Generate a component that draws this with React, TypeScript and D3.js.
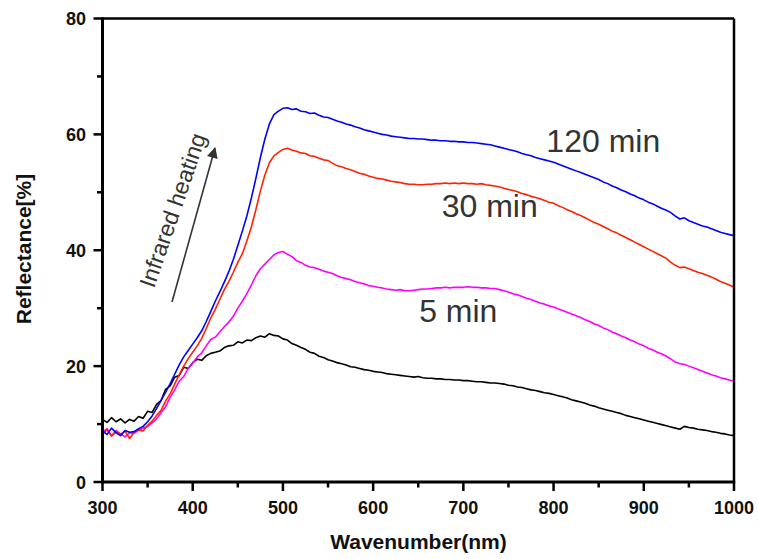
import React from "react";
import * as d3 from "d3";

const W = 758;
const H = 559;

// wavelength grid (nm), 5 nm steps from 300 to 1000
const wavelengths: number[] = d3.range(300, 1001, 5);

const series0min: number[] = [
  10.8, 10.3, 11.1, 10.4, 10.9, 10.2, 10.8, 10.5, 11.3, 11.0, 12.2, 12.0, 13.4, 14.1, 16.0, 16.6, 18.1, 18.4, 19.8, 19.6,
  20.6, 21.2, 21.0, 21.8, 22.2, 22.4, 22.6, 23.2, 23.5, 23.6, 24.2, 24.0, 24.5, 24.4, 24.9, 25.2, 25.0, 25.6, 25.3, 25.2,
  24.7, 24.5, 23.9, 23.6, 23.2, 22.9, 22.4, 22.2, 21.7, 21.5, 21.1, 20.9, 20.6, 20.4, 20.2, 19.9, 19.8, 19.6, 19.4, 19.3,
  19.1, 19.0, 18.9, 18.7, 18.6, 18.5, 18.4, 18.3, 18.2, 18.1, 18.2, 18.0, 17.9, 17.9, 17.8, 17.8, 17.7, 17.7, 17.6, 17.6,
  17.5, 17.5, 17.4, 17.3, 17.3, 17.2, 17.1, 17.1, 17.0, 16.9, 16.7, 16.6, 16.4, 16.3, 16.1, 15.9, 15.8, 15.6, 15.4, 15.3,
  15.1, 14.9, 14.7, 14.5, 14.2, 14.0, 13.8, 13.6, 13.3, 13.1, 12.8, 12.6, 12.4, 12.2, 12.0, 11.8, 11.5, 11.3, 11.1, 10.9,
  10.7, 10.5, 10.3, 10.1, 9.9, 9.7, 9.5, 9.3, 9.1, 9.6, 9.4, 9.3, 9.1, 9.0, 8.9, 8.7, 8.6, 8.4, 8.3, 8.1,
  8.0,
];

const series5min: number[] = [
  8.6, 9.2, 8.0, 8.9, 8.3, 7.8, 8.5, 8.4, 8.9, 9.3, 9.6, 10.2, 10.9, 12.0, 13.0, 14.6, 15.9, 17.4, 18.2, 19.6,
  20.5, 21.6, 22.3, 23.5, 24.6, 25.0, 25.9, 26.8, 27.6, 28.6, 30.0, 31.2, 32.5, 34.0, 35.6, 36.8, 37.6, 38.4, 39.2, 39.6,
  39.8, 39.3, 38.9, 38.2, 37.9, 37.4, 37.1, 37.0, 36.7, 36.4, 36.2, 36.0, 35.6, 35.3, 35.1, 34.9, 34.6, 34.4, 34.2, 33.9,
  33.8, 33.6, 33.5, 33.3, 33.2, 33.1, 33.2, 33.0, 33.0, 33.1, 33.2, 33.3, 33.3, 33.4, 33.5, 33.5, 33.6, 33.5, 33.6, 33.6,
  33.6, 33.7, 33.6, 33.6, 33.5, 33.5, 33.4, 33.4, 33.2, 33.0, 32.8, 32.5, 32.3, 32.0, 31.7, 31.5, 31.2, 30.9, 30.7, 30.4,
  30.2, 29.9, 29.6, 29.3, 29.0, 28.7, 28.4, 28.0, 27.7, 27.3, 27.0, 26.6, 26.3, 25.9, 25.6, 25.2, 24.9, 24.5, 24.2, 23.8,
  23.5, 23.1, 22.8, 22.4, 22.1, 21.7, 21.2, 20.7, 20.4, 20.3, 20.0, 19.7, 19.4, 19.1, 18.8, 18.5, 18.3, 18.0, 17.8, 17.6,
  17.4,
];

const series30min: number[] = [
  8.4, 9.0, 7.9, 8.7, 8.2, 8.8, 7.5, 8.6, 9.0, 8.8, 9.8, 10.5, 11.5, 12.4, 14.0, 15.2, 16.9, 18.5, 20.0, 21.3,
  22.4, 23.5, 24.8, 26.5, 28.3, 29.8, 31.5, 33.2, 34.6, 36.2, 37.9, 39.4, 41.6, 44.0, 47.0, 50.2, 53.0, 55.1, 56.3, 56.9,
  57.4, 57.6, 57.3, 57.1, 56.8, 56.7, 56.3, 56.2, 55.9, 55.6, 55.5, 55.0, 54.6, 54.4, 54.1, 53.9, 53.6, 53.3, 53.1, 52.8,
  52.6, 52.4, 52.3, 52.1, 51.9, 51.8, 51.7, 51.5, 51.4, 51.4, 51.3, 51.3, 51.4, 51.4, 51.5, 51.5, 51.6, 51.5, 51.6, 51.5,
  51.6, 51.5, 51.5, 51.4, 51.5, 51.3, 51.2, 51.1, 50.9, 50.7, 50.5, 50.3, 50.1, 49.8, 49.6, 49.3, 49.1, 48.9, 48.6, 48.3,
  48.1, 47.7, 47.4, 47.0, 46.7, 46.3, 46.0, 45.6, 45.2, 44.8, 44.5, 44.1, 43.7, 43.3, 43.0, 42.6, 42.2, 41.8, 41.4, 41.0,
  40.6, 40.2, 39.8, 39.4, 39.0, 38.6, 37.9, 37.4, 37.0, 37.1, 36.8, 36.5, 36.2, 36.0, 35.7, 35.4, 35.0, 34.6, 34.3, 34.0,
  33.6,
];

const series120min: number[] = [
  8.8, 8.2, 9.3, 8.5, 8.0, 8.9, 8.6, 8.7, 9.2, 9.6, 10.4, 11.4, 12.7, 14.1, 15.5, 17.0, 18.6, 20.2, 21.6, 22.7,
  23.8, 24.9, 26.1, 27.7, 29.4, 31.2, 32.8, 34.5, 36.3, 38.4, 40.8, 43.3, 45.9, 49.0, 52.4, 56.0, 59.2, 61.8, 63.4, 64.0,
  64.5, 64.6, 64.3, 64.4, 64.0, 63.9, 63.6, 63.7, 63.3, 63.0, 62.9, 62.6, 62.3, 62.1, 61.8, 61.6, 61.3, 61.1, 60.8, 60.6,
  60.4, 60.2, 60.0, 59.9, 59.7, 59.6, 59.5, 59.4, 59.3, 59.3, 59.2, 59.2, 59.1, 59.0, 59.0, 58.9, 58.9, 58.8, 58.8, 58.7,
  58.7, 58.6, 58.6, 58.5, 58.4, 58.3, 58.2, 58.0, 57.8, 57.6, 57.4, 57.2, 57.0, 56.7, 56.5, 56.3, 56.0, 55.8, 55.6, 55.4,
  55.2, 54.9, 54.6, 54.3, 54.0, 53.7, 53.4, 53.1, 52.8, 52.5, 52.2, 51.8, 51.5, 51.1, 50.8, 50.4, 50.1, 49.7, 49.4, 49.0,
  48.7, 48.3, 48.0, 47.6, 47.2, 46.9, 46.5, 45.9, 45.4, 45.6, 45.1, 44.8, 44.5, 44.2, 44.0, 43.7, 43.4, 43.1, 42.9, 42.7,
  42.5,
];

const seriesList = [
  { name: "0 min", values: series0min, color: "#000000" },
  { name: "5 min", values: series5min, color: "#ff00ff" },
  { name: "30 min", values: series30min, color: "#ff2200" },
  { name: "120 min", values: series120min, color: "#0000ff" },
];

const xTicks: number[] = [300, 400, 500, 600, 700, 800, 900, 1000];
const xMinorTicks: number[] = [350, 450, 550, 650, 750, 850, 950];
const yTicks: number[] = [0, 20, 40, 60, 80];
const yMinorTicks: number[] = [10, 30, 50, 70];

// label anchor (start of text, baseline) in data units
const labels = [
  { text: "120 min", wl: 792, val: 57.0 },
  { text: "30 min", wl: 676, val: 45.8 },
  { text: "5 min", wl: 651, val: 27.6 },
];

const xTitle = "Wavenumber(nm)";
const yTitle = "Reflectance[%]";
const arrowText = "Infrared heating";

export default function App() {
  const left = 102.5;
  const right = 734;
  const top = 18.5;
  const bottom = 482;

  const x = d3.scaleLinear().domain([300, 1000]).range([left, right]);
  const y = d3.scaleLinear().domain([0, 80]).range([bottom, top]);

  const line = d3
    .line<number>()
    .x((_, i) => x(wavelengths[i]))
    .y((d) => y(d));

  const tickFont = "'Liberation Sans', Arial, sans-serif";

  return (
    <svg
      width={W}
      height={H}
      style={{ position: "absolute", left: 0, top: 0, background: "#fff" }}
    >
      <rect x={0} y={0} width={W} height={H} fill="#fff" />
      {seriesList.map((s) => (
        <path
          key={s.name}
          d={line(s.values) || ""}
          fill="none"
          stroke={s.color}
          strokeWidth={1.6}
          strokeLinejoin="round"
        />
      ))}

      {/* frame */}
      <line x1={left} x2={right} y1={top} y2={top} stroke="#000" strokeWidth={2.5} />
      <line x1={right} x2={right} y1={top} y2={bottom} stroke="#000" strokeWidth={2.5} />
      <line x1={left} x2={left} y1={top - 1.2} y2={bottom + 1.2} stroke="#000" strokeWidth={3} />
      <line x1={left - 1.5} x2={right + 1.2} y1={bottom} y2={bottom} stroke="#000" strokeWidth={3} />

      {/* x ticks */}
      {xTicks.map((t) => (
        <g key={"xt" + t}>
          <line x1={x(t)} x2={x(t)} y1={bottom} y2={bottom + 9} stroke="#000" strokeWidth={2.5} />
          <text
            x={x(t)}
            y={514}
            textAnchor="middle"
            fontFamily={tickFont}
            fontWeight="bold"
            fontSize={18}
            fill="#111"
          >
            {t}
          </text>
        </g>
      ))}
      {xMinorTicks.map((t) => (
        <line key={"xm" + t} x1={x(t)} x2={x(t)} y1={bottom} y2={bottom + 5.5} stroke="#000" strokeWidth={2.5} />
      ))}

      {/* y ticks */}
      {yTicks.map((t) => (
        <g key={"yt" + t}>
          <line x1={left - 9} x2={left} y1={y(t)} y2={y(t)} stroke="#000" strokeWidth={2.5} />
          <text
            x={86}
            y={y(t) + 6.5}
            textAnchor="end"
            fontFamily={tickFont}
            fontWeight="bold"
            fontSize={18}
            fill="#111"
          >
            {t}
          </text>
        </g>
      ))}
      {yMinorTicks.map((t) => (
        <line key={"ym" + t} x1={left - 5.5} x2={left} y1={y(t)} y2={y(t)} stroke="#000" strokeWidth={2.5} />
      ))}

      {/* axis titles */}
      <text
        x={418.5}
        y={549}
        textAnchor="middle"
        fontFamily={tickFont}
        fontWeight="bold"
        fontSize={21}
        fill="#111"
      >
        {xTitle}
      </text>
      <text
        transform={`translate(31, 249) rotate(-90)`}
        textAnchor="middle"
        fontFamily={tickFont}
        fontWeight="bold"
        fontSize={21}
        fill="#111"
      >
        {yTitle}
      </text>

      {/* series labels */}
      {labels.map((l) => (
        <text
          key={l.text}
          x={x(l.wl)}
          y={y(l.val)}
          textAnchor="start"
          fontFamily={tickFont}
          fontSize={32}
          fill="#333"
        >
          {l.text}
        </text>
      ))}

      {/* arrow annotation */}
      <defs>
        <marker
          id="arrowhead"
          viewBox="0 0 10 10"
          refX={9}
          refY={5}
          markerWidth={13}
          markerHeight={11}
          markerUnits="userSpaceOnUse"
          orient="auto"
        >
          <path d="M0,0 L10,5 L0,10 z" fill="#333" />
        </marker>
      </defs>
      <line
        x1={172}
        y1={302}
        x2={215}
        y2={148}
        stroke="#333"
        strokeWidth={1.6}
        markerEnd="url(#arrowhead)"
      />
      <text
        transform={`translate(154, 289) rotate(-71)`}
        fontFamily={tickFont}
        fontSize={23}
        fill="#333"
      >
        {arrowText}
      </text>
    </svg>
  );
}
